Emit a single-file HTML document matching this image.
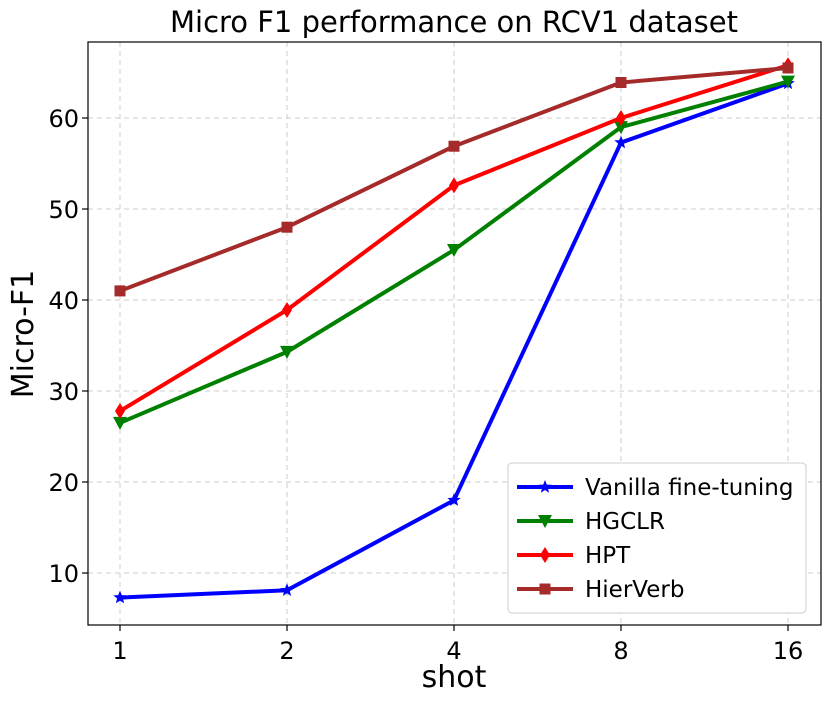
<!DOCTYPE html>
<html><head><meta charset="utf-8"><style>
body{margin:0;background:#fff;}
svg text{font-family:"DejaVu Sans","Liberation Sans",sans-serif;fill:#000;}
</style></head><body>
<svg id="chart" width="831" height="703"></svg>
<script>
const categories=["1","2","4","8","16"];
const yTicks=[10,20,30,40,50,60];
const seriesNames=["Vanilla fine-tuning","HGCLR","HPT","HierVerb"];
const vanilla=[7.3,8.1,18.0,57.3,63.8];
const hgclr=[26.5,34.3,45.5,59.0,64.0];
const hpt=[27.8,38.9,52.6,60.0,65.8];
const hierverb=[41.0,48.0,56.9,63.9,65.5];

const NS="http://www.w3.org/2000/svg";
const svg=document.getElementById('chart');
const L=88,R=821,T=42,B=625;
function xs(i){return 120+i*167;}
function ys(v){return 664-9.1*v;}
function el(t,a,p){const e=document.createElementNS(NS,t);for(const k in a)e.setAttribute(k,a[k]);(p||svg).appendChild(e);return e;}
yTicks.forEach(v=>{const g=el('line',{x1:L,x2:R,y1:ys(v),y2:ys(v),stroke:'#ccc','stroke-dasharray':'5,4','stroke-width':1});


const tl=el('line',{x1:L-6,x2:L,y1:ys(v),y2:ys(v),stroke:'#000','stroke-width':1.2});


const t=el('text',{x:L-9,y:ys(v)+9,'text-anchor':'end','font-size':24});t.textContent=v;

});
categories.forEach((c,i)=>{const g=el('line',{x1:xs(i),x2:xs(i),y1:T,y2:B,stroke:'#ccc','stroke-dasharray':'5,4','stroke-width':1});


const tl=el('line',{x1:xs(i),x2:xs(i),y1:B,y2:B+6,stroke:'#000','stroke-width':1.2});


const t=el('text',{x:xs(i),y:B+34,'text-anchor':'middle','font-size':24});t.textContent=c;

});
const frame=el('rect',{x:L,y:T,width:R-L,height:B-T,fill:'none',stroke:'#000','stroke-width':1.2});


const title=el('text',{x:454,y:32,'text-anchor':'middle','font-size':29});title.textContent="Micro F1 performance on RCV1 dataset";


const xl=el('text',{x:454,y:687,'text-anchor':'middle','font-size':30});xl.textContent="shot";


const yl=el('text',{x:0,y:0,'text-anchor':'middle','font-size':30,transform:'translate(33,334) rotate(-90)'});yl.textContent="Micro-F1";



function marker(type,x,y,color,s,parent){
 s=s||1;
 if(type==='star'){let p=[];for(let k=0;k<10;k++){const r=(k%2?3:7)*s,a=-Math.PI/2+k*Math.PI/5;p.push((x+r*Math.cos(a)).toFixed(1)+','+(y+r*Math.sin(a)).toFixed(1));}return el('polygon',{points:p.join(' '),fill:color},parent);}
 if(type==='tri')return el('polygon',{points:`${x-7*s},${y-6*s} ${x+7*s},${y-6*s} ${x},${y+7*s}`,fill:color},parent);
 if(type==='dia')return el('polygon',{points:`${x},${y-8*s} ${x+5*s},${y} ${x},${y+8*s} ${x-5*s},${y}`,fill:color},parent);
 return el('rect',{x:x-5.5*s,y:y-5.5*s,width:11*s,height:11*s,fill:color},parent);
}
const series=[[vanilla,'#0000ff','star'],[hgclr,'#008000','tri'],[hpt,'#ff0000','dia'],[hierverb,'#a52a2a','sq']];
series.forEach(([d,c,m],si)=>{
 const g=el('g',{});
 
 
 el('polyline',{points:d.map((v,i)=>xs(i)+','+ys(v)).join(' '),fill:'none',stroke:c,'stroke-width':4,'stroke-linejoin':'round'},g);
 d.forEach((v,i)=>{const mk=marker(m,xs(i),ys(v),c,1,g);
 
 });
});
const lg=el('g',{});


el('rect',{x:508,y:463,width:298,height:150,rx:4,fill:'#fff',stroke:'#ccc','stroke-width':1},lg);
series.forEach(([d,c,m],i)=>{
 const y=487+i*34;
 const e=el('g',{},lg);
 
 
 el('line',{x1:517,x2:573,y1:y,y2:y,stroke:c,'stroke-width':4},e);
 marker(m,545,y,c,1,e);
 const t=el('text',{x:585,y:y+8,'font-size':23},e);t.textContent=seriesNames[i];
});
</script>
</body></html>
